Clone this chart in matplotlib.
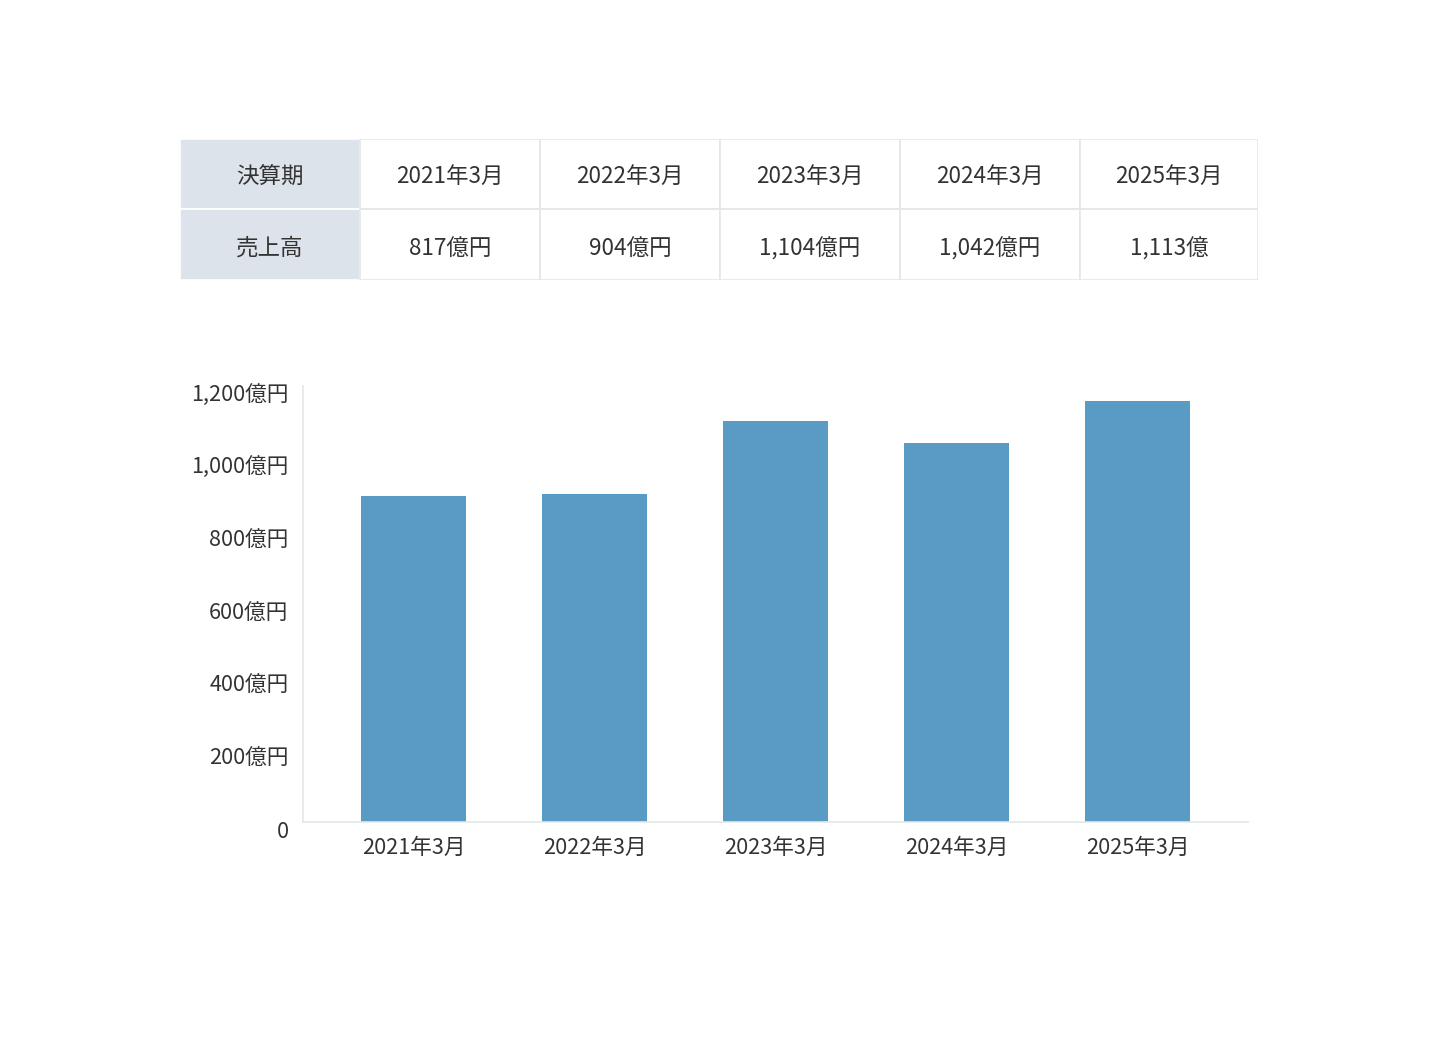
import matplotlib
matplotlib.use("Agg")
import matplotlib.pyplot as plt
from matplotlib.patches import Rectangle
from matplotlib.transforms import ScaledTranslation

plt.rcParams['font.family'] = ['Noto Sans CJK JP', 'DejaVu Sans']

# ---- data ----
periods = ["2021年3月", "2022年3月", "2023年3月", "2024年3月", "2025年3月"]
table_row_headers = ["決算期", "売上高"]
table_sales_text = ["817億円", "904億円", "1,104億円", "1,042億円", "1,113億"]
bar_values = [897, 904, 1104, 1042, 1160]
y_ticks = [0, 200, 400, 600, 800, 1000, 1200]
y_tick_labels = ["0", "200億円", "400億円", "600億円", "800億円", "1,000億円", "1,200億円"]

TEXT = "#333333"
BAR = "#5a9bc6"
GRID = "#e6e6e6"
HEAD_BG = "#dce3ea"

W, H = 1440, 1037
fig = plt.figure(figsize=(W / 100, H / 100), dpi=100)

# ---- table (pixel-coordinate axes) ----
tx0, tx1, ty0, ty1 = 180, 1258, 139, 280
tax = fig.add_axes([tx0 / W, 1 - ty1 / H, (tx1 - tx0) / W, (ty1 - ty0) / H])
tax.set_xlim(tx0, tx1)
tax.set_ylim(ty1, ty0)
tax.axis("off")
col_edges = [180, 360, 540, 720, 900, 1080, 1258]
row_edges = [139, 209, 280]
row_text_shift = [2, 4]
rows = [periods, table_sales_text]
for r in range(2):
    y0, y1 = row_edges[r], row_edges[r + 1]
    ty = (y0 + y1) / 2 + row_text_shift[r]
    tax.add_patch(Rectangle((col_edges[0], y0), col_edges[1] - col_edges[0], y1 - y0,
                            facecolor=HEAD_BG, edgecolor="white", lw=1.2))
    tax.text((col_edges[0] + col_edges[1]) / 2, ty, table_row_headers[r],
             ha="center", va="center", fontsize=16.2, color=TEXT)
    for c in range(5):
        x0, x1 = col_edges[c + 1], col_edges[c + 2]
        tax.add_patch(Rectangle((x0, y0), x1 - x0, y1 - y0,
                                facecolor="white", edgecolor=GRID, lw=1.2))
        tax.text((x0 + x1) / 2, ty, rows[r][c],
                 ha="center", va="center", fontsize=16.2, color=TEXT)

# ---- bar chart ----
ax_l, ax_r, ax_t, ax_b = 303, 1248, 386, 822
ax = fig.add_axes([ax_l / W, 1 - ax_b / H, (ax_r - ax_l) / W, (ax_b - ax_t) / H])
x = list(range(len(periods)))
ax.bar(x, bar_values, width=0.581, color=BAR, zorder=2)
ax.set_xlim(-0.611, len(periods) - 1 + 0.611)
ax.set_ylim(0, 1200)
ax.set_yticks(y_ticks)
ax.set_yticklabels(y_tick_labels)
ax.set_xticks(x)
ax.set_xticklabels(periods)
for s in ["top", "right"]:
    ax.spines[s].set_visible(False)
for s in ["left", "bottom"]:
    ax.spines[s].set_color(GRID)
    ax.spines[s].set_linewidth(1.2)
ax.tick_params(axis="both", length=0, colors=TEXT, labelsize=15.6)
ax.tick_params(axis="y", pad=10.5)
ax.tick_params(axis="x", pad=11)
off = ScaledTranslation(0, -7 / 100, fig.dpi_scale_trans)
for lab in ax.get_yticklabels():
    lab.set_transform(lab.get_transform() + off)

fig.savefig("out.png", dpi=100, facecolor="white")
